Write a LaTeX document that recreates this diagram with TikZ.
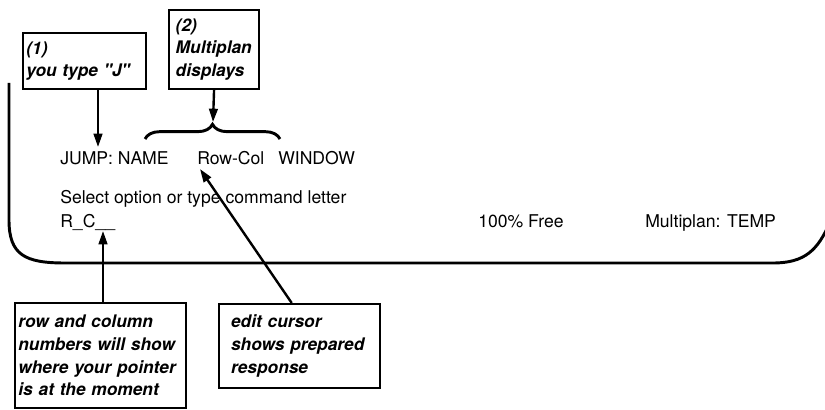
\documentclass[tikz,border=0pt]{standalone}
\usepackage{fontspec}
\setmainfont{TeX Gyre Heros}
\usetikzlibrary{arrows.meta,calc,decorations.pathreplacing}
\hyphenpenalty=10000

\tikzset{
	callout/.style={draw, line width=1.6pt, align=left, anchor=north west, inner ysep=2pt,
		font=\fontsize{13}{17}\selectfont\bfseries\itshape},
	scrtext/.style={anchor=base west, inner sep=0pt, font=\fontsize{13.2}{16}\selectfont},
	pointer/.style={line width=1.8pt, -{Triangle[length=10pt,width=6.5pt]}},
}

\begin{document}
\begin{tikzpicture}[x=0.75pt,y=0.75pt,yscale=-1]
			\useasboundingbox (0,0) rectangle (825,410);
			
			% Callout boxes
			\node [callout, inner xsep=2.5pt, text width=87pt, minimum height=42pt] (jtype) at (22,32) {(1)\\you type \textquotedbl J\textquotedbl};
			\node [callout, inner xsep=5pt, text width=57.5pt, minimum height=59pt] (mdisp) at (168,9) {(2)\\Multiplan\\displays};
			\node [callout, inner xsep=2.5pt, text width=123pt, minimum height=79pt] (rcbox) at (14,302) {row and column\\numbers will show\\where your pointer\\is at the moment};
			\node [callout, inner xsep=9pt, text width=103pt, minimum height=63pt] (edbox) at (218,303) {edit cursor\\shows prepared\\response};
			
			%Screen frame
			\draw [line width=2.2pt] (9,83) -- (9,220) .. controls (9,255) and (25,263) .. (65,263) -- (773,263) .. controls (805,263) and (818,250) .. (830,222) ;
			
			% Text Node
			\node [scrtext] (jump) at (60,165) {JUMP: NAME};
			% Text Node
			\node [scrtext] (rowcol) at (197,165) {Row-Col};
			% Text Node
			\node [scrtext] (window) at (278,165) {WINDOW};
			% Text Node
			\node [scrtext] (select) at (60,203) {Select option or type command letter};
			% Text Node
			\node [scrtext] (rcline) at (60,227) {R\_C\_\_};
			% Text Node
			\node [scrtext] (free) at (478,227) {100\% Free};
			% Text Node
			\node [scrtext] (mpname) at (645,227) {Multiplan: TEMP};
			
			%Brace over the choices
			\coordinate (brL) at (145,139);
			\coordinate (brR) at (280,139);
			\coordinate (brtip) at (213,122);
			\draw [line width=2.2pt, decorate, decoration={brace, amplitude=11pt}] (brL) -- (brR) ;
			
			%Arrow tips
			\coordinate (jtip) at (98,147);
			\coordinate (rctip) at (103,231);
			\coordinate (curtip) at (200,169);
			
			%Straight Lines
			\draw [pointer] (jtype.south -| jtip) -- (jtip) ;
			\draw [pointer] (mdisp.south) -- (brtip) ;
			\draw [pointer] (rcbox.north -| rctip) -- (rctip) ;
			\draw [pointer] ($(edbox.north)+(-8,0)$) -- (curtip) ;
			
\end{tikzpicture}
\end{document}
